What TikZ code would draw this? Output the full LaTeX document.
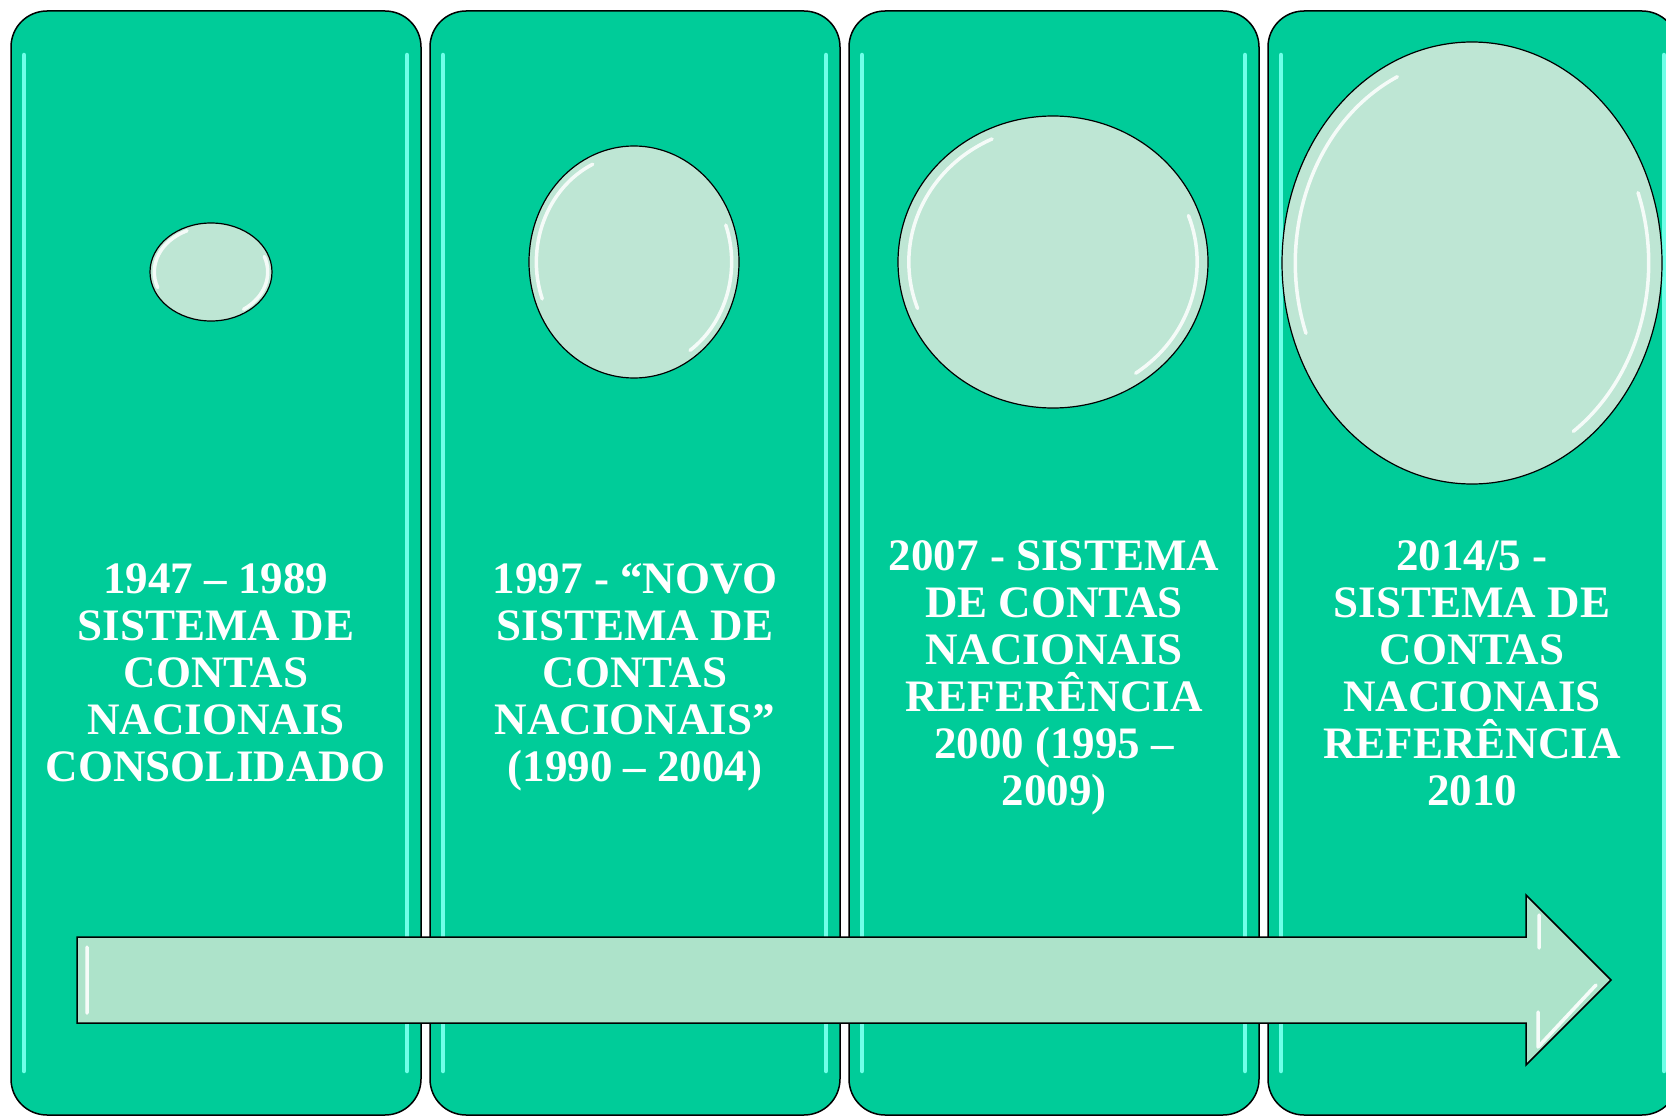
\documentclass[tikz,border=0pt]{standalone}
\usepackage{fontspec}
\setmainfont{Liberation Serif}
\definecolor{painel}{HTML}{00CC99}
\definecolor{bolha}{HTML}{BEE6D4}
\definecolor{seta}{HTML}{ADE3CA}
\definecolor{brilho}{HTML}{6FFFE8}
\begin{document}
\begin{tikzpicture} [x=1pt, y=-1pt, line join=round, line cap=round,
 rotulo/.style={align=center, inner sep=0pt, text=white,
  font=\fontsize{45}{47}\selectfont\bfseries,
  execute at begin node=\strut, execute at end node=\strut}]
\def \w{410}\def \passo{419}\def \topo{11}\def \base{1115}
\useasboundingbox (0,0) rectangle (1666,1116);
\clip (0,0) rectangle (1666,1116);
% paineis
\foreach \i in {0,...,3}{
 \pgfmathsetmacro\xa{11+\passo*\i}
 \draw[fill=painel, line width=1.5pt, rounded corners=36pt] (\xa,\topo) rectangle (\xa+\w,\base);
 \draw[brilho, line width=4.5pt] (\xa+13,\topo+44) -- (\xa+13,\base-44)
  (\xa+\w-14,\topo+44) -- (\xa+\w-14,\base-44);
}
% bolhas
\foreach \cx/\cy/\rx/\ry in {211/272/61/49, 634/262/105/116, 1053/262/155/146, 1472/263/190/221}{
 \draw[fill=bolha, line width=1.2pt] (\cx,\cy) ellipse [x radius=\rx, y radius=\ry];
 \draw[white, opacity=.85, line width=3.5pt] (\cx,\cy) ++(160:{0.93*\rx} and {0.93*\ry})
  arc[start angle=160, end angle=245, x radius=0.93*\rx, y radius=0.93*\ry];
 \draw[white, opacity=.85, line width=3.5pt] (\cx,\cy) ++(-20:{0.93*\rx} and {0.93*\ry})
  arc[start angle=-20, end angle=55, x radius=0.93*\rx, y radius=0.93*\ry];
}
% seta
\draw[fill=seta, line width=1.5pt, line join=miter] (77,937) -- (1526,937) -- (1526,895)
 -- (1611,980) -- (1526,1065) -- (1526,1023) -- (77,1023) -- cycle;
\draw[white, opacity=.9, line width=3.5pt] (87,947) -- (87,1013)
 (1539,915) -- (1539,948) (1538,1012) -- (1538,1047) -- (1596,985);
% textos
\node[rotulo] (t1) at (216,680) {1947 – 1989\\SISTEMA DE\\CONTAS\\NACIONAIS\\CONSOLIDADO};
\node[rotulo] (t2) at (635,680) {1997 - “NOVO\\SISTEMA DE\\CONTAS\\NACIONAIS”\\(1990 – 2004)};
\node[rotulo] (t3) at (1054,680) {2007 - SISTEMA\\DE CONTAS\\NACIONAIS\\REFERÊNCIA\\2000 (1995 –\\2009)};
\node[rotulo] (t4) at (1472,680) {2014/5 -\\SISTEMA DE\\CONTAS\\NACIONAIS\\REFERÊNCIA\\2010};
\end{tikzpicture}
\end{document}
